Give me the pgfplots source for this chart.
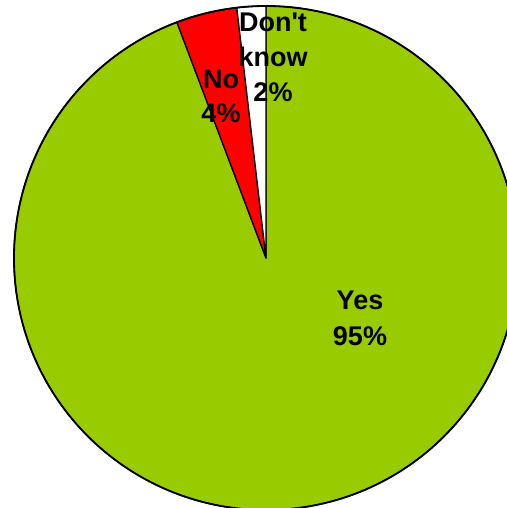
\documentclass[border=0pt]{standalone}
\usepackage{pgfplots}
\pgfplotsset{compat=1.18}
\usepackage{fontspec}
\setmainfont{Liberation Sans}

\definecolor{yesgreen}{HTML}{99CC00}
\definecolor{nored}{HTML}{FF0000}

% shares in percent (rounded labels: 95, 4, 2)
\def\vDK{1.85}
\def\vNo{3.9}
\def\vYes{94.25}

\begin{document}
\begin{tikzpicture}
\begin{axis}[
    width=506pt, height=508pt,
    scale only axis,
    xmin=0, xmax=506, ymin=0, ymax=508,
    hide axis,
    clip=false,
]
\pgfmathsetmacro{\aA}{90}
\pgfmathsetmacro{\aB}{90+3.6*\vDK}
\pgfmathsetmacro{\aC}{\aB+3.6*\vNo}
\pgfmathsetmacro{\aD}{450}
% Yes
\filldraw[fill=yesgreen, draw=black, line width=1.3pt, line join=round]
    (axis cs:266,250) -- ++(\aC:252pt) arc[start angle=\aC, end angle=\aD, radius=252pt] -- cycle;
% No
\filldraw[fill=nored, draw=black, line width=1.3pt, line join=round]
    (axis cs:266,250) -- ++(\aB:252pt) arc[start angle=\aB, end angle=\aC, radius=252pt] -- cycle;
% Don't know
\filldraw[fill=white, draw=black, line width=1.3pt, line join=round]
    (axis cs:266,250) -- ++(\aA:252pt) arc[start angle=\aA, end angle=\aB, radius=252pt] -- cycle;
\draw[black, line width=1.8pt] (axis cs:266,250) circle[radius=252pt];

\node[align=center, font=\fontsize{27}{36}\selectfont\bfseries]
    at (axis cs:360,190) {Yes\\95\%};
\node[align=center, font=\fontsize{27}{34}\selectfont\bfseries]
    at (axis cs:221,412) {No\\4\%};
\node[align=center, font=\fontsize{27}{35}\selectfont\bfseries]
    at (axis cs:273,451) {Don\textquotesingle t\\know\\2\%};
\end{axis}
\pgfresetboundingbox
\path[use as bounding box] (current axis.south west) rectangle (current axis.north east);
\end{tikzpicture}
\end{document}
